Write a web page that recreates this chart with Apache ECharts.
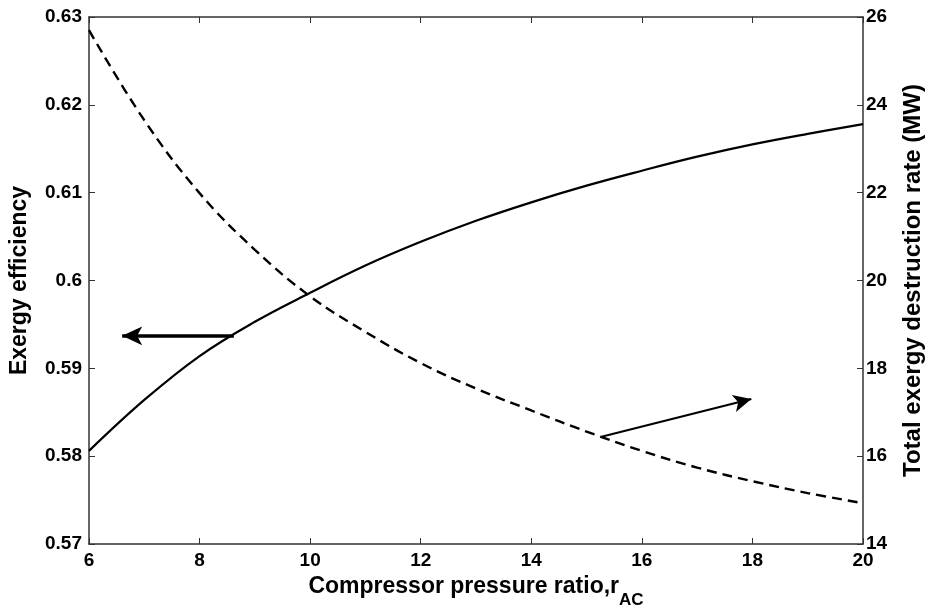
<!DOCTYPE html>
<html>
<head>
  <meta charset="utf-8">
  <title>Exergy efficiency vs pressure ratio</title>
  <script src="https://cdn.jsdelivr.net/npm/echarts@6/dist/echarts.min.js"></script>
  <style>
    html, body { margin: 0; padding: 0; background: #fff; }
  </style>
</head>
<body>
  <div id="main" style="width: 927px; height: 613px;"></div>

  <script>
    // compressor pressure ratio r_AC
    const ratios = [6, 7, 8, 9, 10, 11, 12, 13, 14, 15, 16, 17, 18, 19, 20];
    // exergy efficiency (left axis), solid
    const efficiency = [0.5806, 0.5864, 0.5914, 0.5953, 0.5986, 0.6017, 0.6044, 0.6068,
                        0.6089, 0.6108, 0.6125, 0.6141, 0.6155, 0.6167, 0.6178];
    // total exergy destruction rate, MW (right axis), dashed
    const destruction = [25.70, 23.65, 21.99, 20.70, 19.64, 18.83, 18.12, 17.54,
                         17.04, 16.56, 16.12, 15.74, 15.43, 15.16, 14.93];

    // arrow annotations [x, y] in data units
    const leftArrow = [[8.62, 0.5937], [6.6, 0.5937]];
    const rightArrow = [[15.27, 16.44], [17.98, 17.30]];

    const font = 'Liberation Sans, Arial, Helvetica, sans-serif';
    const axisColor = '#333';

    const chart = echarts.init(document.getElementById('main'));
    const tickLabel = { color: '#000', fontFamily: font, fontWeight: 'bold', fontSize: 19 };

    const option = {
      animation: false,
      backgroundColor: '#fff',
      grid: { left: 89, right: 64, top: 17, bottom: 69, outerBoundsMode: 'none', containLabel: false },
      xAxis: [
        {
          type: 'value', min: 6, max: 20, interval: 2,
          axisLine: { lineStyle: { color: axisColor, width: 1.5 } },
          axisTick: { inside: true, length: 6, lineStyle: { color: axisColor } },
          axisLabel: Object.assign({ margin: 7 }, tickLabel),
          splitLine: { show: false },
          name: '{m|Compressor pressure ratio,r}{s|AC}',
          nameLocation: 'middle',
          nameGap: 29,
          nameTextStyle: {
            rich: {
              m: { fontFamily: font, fontWeight: 'bold', fontSize: 23, color: '#000', verticalAlign: 'top', lineHeight: 24 },
              s: { fontFamily: font, fontWeight: 'bold', fontSize: 17, color: '#000', verticalAlign: 'top', padding: [17, 0, 0, 0], lineHeight: 24 }
            }
          }
        },
        {
          type: 'value', min: 6, max: 20, interval: 2, position: 'top',
          axisLine: { lineStyle: { color: axisColor, width: 1.5 } },
          axisTick: { inside: true, length: 6, lineStyle: { color: axisColor } },
          axisLabel: { show: false },
          splitLine: { show: false }
        }
      ],
      yAxis: [
        {
          type: 'value', min: 0.57, max: 0.63, interval: 0.01,
          axisLine: { show: true, lineStyle: { color: axisColor, width: 1.5 } },
          axisTick: { show: true, inside: true, length: 6, lineStyle: { color: axisColor } },
          axisLabel: Object.assign({ margin: 7, formatter: v => +v.toFixed(2) + '' }, tickLabel),
          splitLine: { show: false },
          name: 'Exergy efficiency',
          nameLocation: 'middle',
          nameGap: 58,
          nameTextStyle: { fontFamily: font, fontWeight: 'bold', fontSize: 23, color: '#000' }
        },
        {
          type: 'value', min: 14, max: 26, interval: 2, position: 'right',
          axisLine: { show: true, lineStyle: { color: axisColor, width: 1.5 } },
          axisTick: { show: true, inside: true, length: 6, lineStyle: { color: axisColor } },
          axisLabel: Object.assign({ margin: 3 }, tickLabel),
          splitLine: { show: false },
          name: 'Total exergy destruction rate (MW)',
          nameLocation: 'middle',
          nameGap: 38,
          nameRotate: 90,
          nameTextStyle: { fontFamily: font, fontWeight: 'bold', fontSize: 24, color: '#000' }
        }
      ],
      series: [
        {
          name: 'Exergy efficiency',
          type: 'line',
          yAxisIndex: 0,
          data: ratios.map((r, i) => [r, efficiency[i]]),
          smooth: 0.4,
          showSymbol: false,
          lineStyle: { color: '#000', width: 2.2 },
          markLine: {
            silent: true,
            symbol: ['none', 'arrow'],
            symbolSize: [14, 20],
            label: { show: false },
            lineStyle: { color: '#000', width: 3.5, type: 'solid' },
            data: [[{ coord: leftArrow[0] }, { coord: leftArrow[1] }]]
          }
        },
        {
          name: 'Total exergy destruction rate',
          type: 'line',
          yAxisIndex: 1,
          data: ratios.map((r, i) => [r, destruction[i]]),
          smooth: 0.4,
          showSymbol: false,
          lineStyle: { color: '#000', width: 2.4, type: [10, 6] },
          markLine: {
            silent: true,
            symbol: ['none', 'arrow'],
            symbolSize: [13, 18],
            label: { show: false },
            lineStyle: { color: '#000', width: 2, type: 'solid' },
            data: [[{ coord: rightArrow[0] }, { coord: rightArrow[1] }]]
          }
        }
      ]
    };
    chart.setOption(option);
  </script>
</body>
</html>
